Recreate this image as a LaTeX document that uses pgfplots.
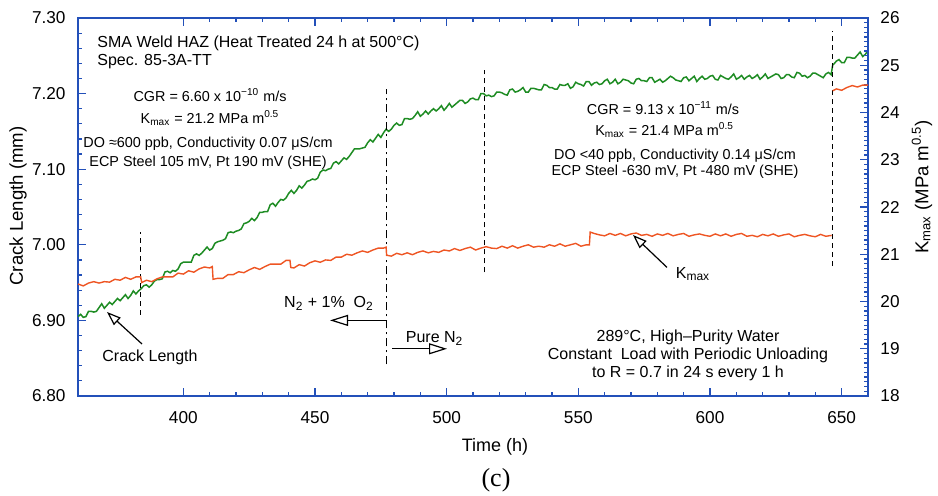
\documentclass[border=0pt]{standalone}
\usepackage{fontspec}
\setmainfont{Liberation Sans}
\newfontfamily\seriffont{Liberation Serif}
\usepackage{pgfplots}
\pgfplotsset{compat=1.18}
\usetikzlibrary{arrows.meta}
\definecolor{axblue}{RGB}{35,80,185}
\definecolor{cgreen}{RGB}{30,140,35}
\definecolor{cred}{RGB}{238,85,35}
\newcommand\fsmall{\fontsize{7.2}{8.6}\selectfont}
\newcommand\fmid{\fontsize{8}{9.6}\selectfont}
\begin{document}
\begin{tikzpicture}
\useasboundingbox (-39pt,-50pt) rectangle (430pt,198pt);
\begin{axis}[
  at={(0pt,0pt)}, anchor=south west,
  scale only axis, width=395pt, height=189pt,
  xmin=360, xmax=660, ymin=6.8, ymax=7.3,
  xtick={400,450,500,550,600,650},
  minor x tick num=4,
  ytick={6.8,6.9,7.0,7.1,7.2,7.3},
  minor y tick num=4,
  xtick pos=both, ytick pos=left,
  tick align=inside,
  major tick length=4pt, minor tick length=2.2pt,
  axis line style={axblue, line width=0.9pt},
  tick style={axblue, line width=0.6pt},
  tick label style={font=\fontsize{8.6}{10}\selectfont},
  /pgf/number format/assume math mode=true,
  yticklabel style={/pgf/number format/.cd, fixed, fixed zerofill, precision=2, /tikz/.cd, xshift=-2.7pt},
  xticklabel style={yshift=-4pt},
]
\addplot[cgreen, line width=0.75pt] coordinates {
(360,6.905)(361,6.908)(362,6.904)(363,6.905)(364,6.912)(365,6.912)(366,6.911)(367,6.912)(368,6.917)(369,6.922)(370,6.916)(371,6.920)(372,6.924)(373,6.921)(374,6.925)(375,6.929)(376,6.926)(377,6.930)(378,6.934)(379,6.929)(380,6.933)(381,6.939)(382,6.935)(383,6.939)(384,6.942)(385,6.946)(386,6.947)(387,6.944)(388,6.947)(389,6.952)(390,6.954)(391,6.954)(392,6.955)(393,6.964)(394,6.965)(395,6.963)(396,6.966)(397,6.965)(398,6.968)(399,6.975)(400,6.977)(401,6.977)(402,6.977)(403,6.977)(404,6.986)(405,6.988)(406,6.986)(407,6.989)(408,6.993)(409,6.997)(410,6.993)(411,6.995)(412,7.002)(413,7.004)(414,7.005)(415,7.006)(416,7.008)(417,7.016)(418,7.017)(419,7.016)(420,7.018)(421,7.019)(422,7.021)(423,7.028)(424,7.029)(425,7.031)(426,7.035)(427,7.032)(428,7.036)(429,7.043)(430,7.043)(431,7.044)(432,7.044)(433,7.053)(434,7.055)(435,7.051)(436,7.056)(437,7.060)(438,7.059)(439,7.062)(440,7.068)(441,7.072)(442,7.068)(443,7.072)(444,7.078)(445,7.075)(446,7.079)(447,7.084)(448,7.085)(449,7.087)(450,7.086)(451,7.088)(452,7.096)(453,7.099)(454,7.098)(455,7.100)(456,7.101)(457,7.108)(458,7.110)(459,7.107)(460,7.111)(461,7.115)(462,7.113)(463,7.117)(464,7.122)(465,7.127)(466,7.127)(467,7.127)(468,7.128)(469,7.129)(470,7.135)(471,7.139)(472,7.136)(473,7.141)(474,7.146)(475,7.142)(476,7.148)(477,7.153)(478,7.150)(479,7.153)(480,7.158)(481,7.161)(482,7.158)(483,7.159)(484,7.167)(485,7.167)(486,7.166)(487,7.167)(488,7.171)(489,7.176)(490,7.170)(491,7.173)(492,7.177)(493,7.173)(494,7.177)(495,7.180)(496,7.177)(497,7.180)(498,7.184)(499,7.178)(500,7.182)(501,7.187)(502,7.182)(503,7.185)(504,7.188)(505,7.191)(506,7.191)(507,7.187)(508,7.189)(509,7.193)(510,7.194)(511,7.192)(512,7.192)(513,7.200)(514,7.200)(515,7.197)(516,7.198)(517,7.196)(518,7.197)(519,7.202)(520,7.202)(521,7.201)(522,7.199)(523,7.198)(524,7.205)(525,7.206)(526,7.202)(527,7.203)(528,7.205)(529,7.208)(530,7.202)(531,7.202)(532,7.207)(533,7.207)(534,7.206)(535,7.205)(536,7.205)(537,7.212)(538,7.211)(539,7.208)(540,7.208)(541,7.206)(542,7.206)(543,7.212)(544,7.211)(545,7.211)(546,7.213)(547,7.207)(548,7.209)(549,7.215)(550,7.213)(551,7.212)(552,7.210)(553,7.216)(554,7.216)(555,7.211)(556,7.214)(557,7.215)(558,7.212)(559,7.213)(560,7.217)(561,7.219)(562,7.213)(563,7.215)(564,7.219)(565,7.213)(566,7.215)(567,7.219)(568,7.218)(569,7.217)(570,7.214)(571,7.213)(572,7.219)(573,7.220)(574,7.217)(575,7.217)(576,7.216)(577,7.221)(578,7.221)(579,7.215)(580,7.217)(581,7.219)(582,7.215)(583,7.217)(584,7.220)(585,7.223)(586,7.221)(587,7.218)(588,7.217)(589,7.216)(590,7.221)(591,7.222)(592,7.217)(593,7.220)(594,7.223)(595,7.216)(596,7.220)(597,7.223)(598,7.219)(599,7.220)(600,7.223)(601,7.224)(602,7.219)(603,7.218)(604,7.224)(605,7.222)(606,7.220)(607,7.219)(608,7.222)(609,7.226)(610,7.219)(611,7.221)(612,7.224)(613,7.219)(614,7.222)(615,7.224)(616,7.220)(617,7.222)(618,7.225)(619,7.219)(620,7.222)(621,7.226)(622,7.220)(623,7.222)(624,7.224)(625,7.226)(626,7.225)(627,7.220)(628,7.221)(629,7.225)(630,7.225)(631,7.222)(632,7.221)(633,7.228)(634,7.227)(635,7.223)(636,7.224)(637,7.221)(638,7.223)(639,7.227)(640,7.227)(641,7.225)(642,7.223)(643,7.221)(644,7.226)(645,7.228)(646,7.225)(646.6,7.238)(647,7.239)(648,7.243)(649,7.245)(650,7.241)(651,7.241)(652,7.248)(653,7.248)(654,7.247)(655,7.247)(656,7.251)(657,7.255)(658,7.249)(659,7.252)(660,7.257)
};
\draw[black, line width=0.5pt, dash pattern=on 2.5pt off 2pt] (axis cs:383.9,6.9075) -- (axis cs:383.9,7.0173);
\draw[black, line width=0.5pt, dash pattern=on 4pt off 2pt on 1pt off 2pt] (axis cs:477,6.8418) -- (axis cs:477,7.2056);
\draw[black, line width=0.5pt, dash pattern=on 2.5pt off 2pt] (axis cs:514.2,6.9634) -- (axis cs:514.2,7.2306);
\draw[black, line width=0.5pt, dash pattern=on 2.5pt off 2pt] (axis cs:646.4,6.9717) -- (axis cs:646.4,7.2825);
\end{axis}
\begin{axis}[
  at={(0pt,0pt)}, anchor=south west,
  scale only axis, width=395pt, height=189pt,
  xmin=360, xmax=660, ymin=18, ymax=26,
  axis y line*=right, axis x line=none,
  ytick={18,19,20,21,22,23,24,25,26},
  minor y tick num=9,
  tick align=inside,
  major tick length=4pt, minor tick length=2.2pt,
  axis line style={axblue, line width=0.9pt},
  tick style={axblue, line width=0.6pt},
  tick label style={font=\fontsize{8.6}{10}\selectfont},
  /pgf/number format/assume math mode=true,
  yticklabel style={xshift=2.7pt},
]
\addplot[cred, line width=0.7pt] coordinates {
(360,20.37)(362,20.33)(364,20.39)(366,20.42)(368,20.39)(370,20.42)(372,20.41)(374,20.47)(376,20.45)(378,20.51)(380,20.47)(382,20.52)(383.8,20.52)
(384.2,20.40)(386,20.45)(388,20.42)(390,20.48)(392,20.52)(394,20.52)(396,20.52)(398,20.60)(400,20.58)(402,20.65)(404,20.62)(406,20.69)(408,20.73)(410,20.71)(411,20.74)
(411.3,20.47)(413,20.49)(415,20.49)(417,20.57)(419,20.57)(421,20.63)(423,20.61)(425,20.67)(427,20.72)(429,20.68)(431,20.74)(433,20.79)(435,20.79)(437,20.79)(439,20.87)(440.5,20.87)
(440.8,20.72)(442,20.71)(444,20.78)(446,20.75)(448,20.82)(450,20.86)(452,20.83)(454,20.88)(456,20.87)(458,20.94)(460,20.94)(462,21.00)(464,20.98)(466,21.03)(468,21.07)(470,21.04)(472,21.09)(474,21.13)(476,21.13)(477,21.15)
(477.2,20.98)(479,20.96)(481,21.02)(483,20.99)(485,21.03)(487,20.99)(489,21.04)(491,21.07)(493,21.03)(495,21.06)(497,21.04)(499,21.09)(501,21.07)(503,21.12)(505,21.08)(507,21.12)(509,21.15)(511,21.09)(513,21.13)(515,21.16)(517,21.13)(519,21.12)(521,21.17)(523,21.13)(525,21.18)(527,21.13)(529,21.17)(531,21.20)(533,21.15)(535,21.17)(537,21.15)(539,21.20)(541,21.17)(543,21.22)(545,21.17)(547,21.20)(549,21.23)(551,21.17)(553,21.20)(554.2,21.20)
(554.5,21.47)(556,21.44)(558,21.41)(560,21.39)(562,21.44)(564,21.40)(566,21.44)(568,21.39)(570,21.43)(572,21.45)(574,21.40)(576,21.42)(578,21.38)(580,21.43)(582,21.40)(584,21.44)(586,21.39)(588,21.42)(590,21.44)(592,21.38)(594,21.41)(596,21.43)(598,21.40)(600,21.38)(602,21.43)(604,21.39)(606,21.43)(608,21.38)(610,21.42)(612,21.44)(614,21.38)(616,21.40)(618,21.37)(620,21.42)(622,21.39)(624,21.43)(626,21.38)(628,21.41)(630,21.43)(632,21.37)(634,21.40)(636,21.42)(638,21.39)(640,21.37)(642,21.42)(644,21.38)(646.2,21.40)
};
\addplot[cred, line width=0.7pt] coordinates {
(646.6,24.46)(648,24.50)(650,24.47)(652,24.53)(654,24.57)(656,24.54)(658,24.58)(660,24.58)
};
\end{axis}
% axis titles
\node[rotate=90, font=\fontsize{9.3}{11}\selectfont] at (-30pt,95pt) {Crack Length (mm)};
\node[rotate=90, font=\fontsize{9.3}{11}\selectfont] at (422pt,104.5pt) {K\textsubscript{max} (MPa m\textsuperscript{0.5})};
\node[font=\fontsize{9}{11}\selectfont, anchor=base] at (208.5pt,-28pt) {Time (h)};
\node[font=\fontsize{13}{15}\seriffont, anchor=base] at (209pt,-45.3pt) {(c)};
% annotations
\node[font=\fmid, anchor=base west, inner sep=0pt] at (9.5pt,174.1pt) {SMA Weld HAZ (Heat Treated 24 h at 500°C)};
\node[font=\fmid, anchor=base west, inner sep=0pt] at (9.5pt,165.1pt) {Spec. 85-3A-TT};
\node[font=\fsmall, anchor=base, inner sep=0pt] at (66pt,147.2pt) {CGR = 6.60 x 10\textsuperscript{−10} m/s};
\node[font=\fsmall, anchor=base, inner sep=0pt] at (66pt,136.2pt) {K\textsubscript{max} = 21.2 MPa m\textsuperscript{0.5}};
\node[font=\fsmall, anchor=base, inner sep=0pt] at (65pt,124.2pt) {DO ≈600 ppb, Conductivity 0.07 μS/cm};
\node[font=\fsmall, anchor=base, inner sep=0pt] at (65pt,114.7pt) {ECP Steel 105 mV, Pt 190 mV (SHE)};
\node[font=\fsmall, anchor=base, inner sep=0pt] at (292.5pt,140.9pt) {CGR = 9.13 x 10\textsuperscript{−11} m/s};
\node[font=\fsmall, anchor=base, inner sep=0pt] at (293.3pt,130.2pt) {K\textsubscript{max} = 21.4 MPa m\textsuperscript{0.5}};
\node[font=\fsmall, anchor=base, inner sep=0pt] at (298.5pt,118.2pt) {DO <40 ppb, Conductivity 0.14 μS/cm};
\node[font=\fsmall, anchor=base, inner sep=0pt] at (298.5pt,110.2pt) {ECP Steel -630 mV, Pt -480 mV (SHE)};
\node[font=\fmid, anchor=base, inner sep=0pt] at (36pt,17.2pt) {Crack Length};
\draw[line width=0.6pt, -{Triangle[open, length=7pt, width=5pt]}] (32pt,26pt) -- (14.5pt,42pt);
\node[font=\fmid, anchor=base, inner sep=0pt] at (307.5pt,58.7pt) {K\textsubscript{max}};
\draw[line width=0.6pt, -{Triangle[open, length=7pt, width=5pt]}] (294.5pt,64.3pt) -- (277.5pt,80.5pt);
\node[font=\fmid, anchor=base, inner sep=0pt] at (125.5pt,44.2pt) {N\textsubscript{2} + 1\%\ \ O\textsubscript{2}};
\draw[line width=0.6pt, -{Triangle[open, length=9pt, width=5.5pt]}] (154.5pt,37.8pt) -- (126pt,37.8pt);
\node[font=\fmid, anchor=base, inner sep=0pt] at (178.3pt,26.8pt) {Pure N\textsubscript{2}};
\draw[line width=0.6pt, -{Triangle[open, length=9pt, width=5.5pt]}] (157pt,23.6pt) -- (184.5pt,23.6pt);
\node[font=\fmid, anchor=base, inner sep=0pt] at (305pt,27.1pt) {289°C, High–Purity Water};
\node[font=\fmid, anchor=base, inner sep=0pt] at (305pt,18.3pt) {Constant\ \ Load with Periodic Unloading};
\node[font=\fmid, anchor=base, inner sep=0pt] at (305pt,9.3pt) {to R = 0.7 in 24 s every 1 h};
\end{tikzpicture}
\end{document}
